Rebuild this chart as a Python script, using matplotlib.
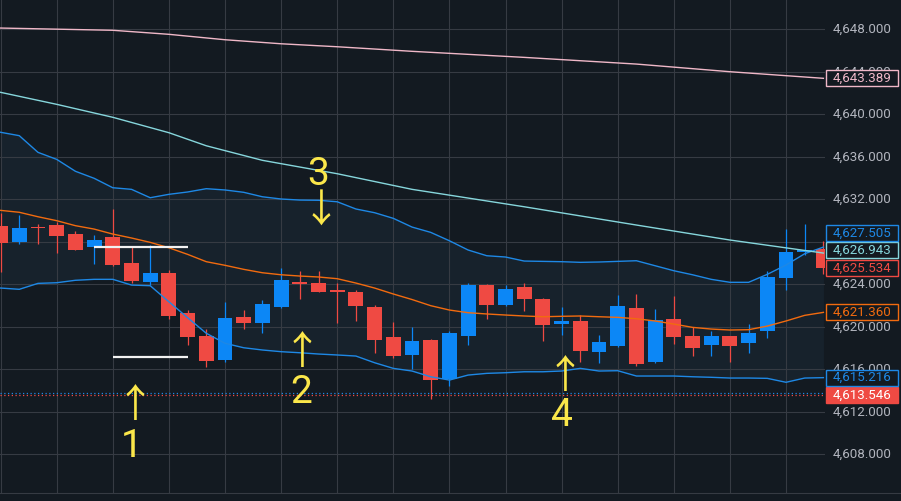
import matplotlib
matplotlib.use("Agg")
import matplotlib.pyplot as plt
from matplotlib.patches import Rectangle
import numpy as np

# candles (one per bar, left to right)
opens = [4629.50, 4627.99, 4629.30, 4629.59, 4628.74, 4627.51, 4628.46, 4626.00, 4624.21, 4625.06,
         4621.29, 4619.12, 4616.85, 4620.91, 4620.34, 4621.88, 4624.08, 4624.12, 4623.35, 4623.27,
         4621.85, 4619.02, 4617.33, 4618.74, 4615.06, 4619.15, 4623.96, 4622.07, 4623.74, 4622.61,
         4620.28, 4620.53, 4617.61, 4618.17, 4621.76, 4616.66, 4620.72, 4619.12, 4618.27, 4619.12,
         4618.46, 4619.59, 4624.59, 4627.04, 4627.33]
highs = [4630.69, 4630.53, 4629.68, 4629.88, 4629.02, 4628.65, 4631.10, 4627.51, 4627.70, 4625.34,
         4621.57, 4619.78, 4622.33, 4621.57, 4622.51, 4625.56, 4625.25, 4625.25, 4624.08, 4623.46,
         4622.04, 4620.44, 4619.94, 4618.83, 4619.59, 4624.15, 4624.00, 4623.93, 4624.12, 4622.70,
         4621.85, 4621.10, 4619.21, 4622.99, 4623.08, 4621.66, 4622.89, 4619.97, 4619.59, 4619.15,
         4620.25, 4625.25, 4629.21, 4629.68, 4628.08]
lows = [4625.18, 4627.83, 4627.83, 4626.92, 4627.20, 4625.91, 4625.70, 4624.12, 4623.93, 4620.72,
        4618.27, 4616.19, 4616.70, 4619.78, 4619.40, 4621.80, 4622.61, 4623.25, 4620.37, 4620.56,
        4617.51, 4617.07, 4616.00, 4613.17, 4614.40, 4618.27, 4620.75, 4622.00, 4621.50, 4618.68,
        4619.21, 4616.69, 4616.60, 4618.10, 4616.29, 4616.60, 4618.36, 4617.23, 4617.23, 4616.66,
        4617.51, 4618.93, 4623.46, 4626.76, 4624.97]
closes = [4627.92, 4629.31, 4629.26, 4628.58, 4627.23, 4628.17, 4625.82, 4624.31, 4625.06, 4621.00,
          4619.02, 4616.76, 4620.82, 4620.34, 4622.14, 4624.40, 4624.02, 4623.30, 4623.30, 4621.95,
          4618.74, 4617.23, 4618.65, 4614.97, 4619.40, 4623.96, 4622.07, 4623.55, 4622.64, 4620.16,
          4620.53, 4617.70, 4618.55, 4621.95, 4616.48, 4620.63, 4619.02, 4617.99, 4619.12, 4618.17,
          4619.40, 4624.68, 4627.04, 4627.23, 4625.534]

# bollinger bands
bb_upper = [4638.31, 4637.99, 4636.42, 4635.76, 4634.64, 4633.98, 4633.09, 4632.94, 4632.15, 4632.47,
            4632.69, 4633.00, 4632.88, 4632.66, 4632.24, 4632.03, 4631.93, 4631.91, 4631.77, 4631.09,
            4630.74, 4630.21, 4629.39, 4628.89, 4628.10, 4627.23, 4626.69, 4626.57, 4626.19, 4626.16,
            4626.13, 4626.07, 4626.10, 4626.16, 4626.22, 4625.75, 4625.28, 4624.90, 4624.47, 4624.19,
            4624.19, 4624.94, 4625.82, 4626.88, 4627.505]
bb_mid = [4630.96, 4630.78, 4630.36, 4629.99, 4629.52, 4629.20, 4628.73, 4628.36, 4627.95, 4627.44,
          4626.82, 4626.13, 4625.79, 4625.41, 4625.09, 4624.90, 4624.78, 4624.69, 4624.53, 4624.12,
          4623.65, 4623.09, 4622.57, 4621.99, 4621.58, 4621.33, 4621.21, 4621.11, 4621.02, 4620.95,
          4620.99, 4621.02, 4620.95, 4620.89, 4620.76, 4620.55, 4620.26, 4619.95, 4619.79, 4619.70,
          4619.73, 4620.07, 4620.55, 4621.08, 4621.360]
bb_lower = [4623.65, 4623.53, 4624.09, 4624.15, 4624.38, 4624.47, 4624.47, 4623.93, 4623.87, 4622.36,
            4620.86, 4619.39, 4618.45, 4618.03, 4617.82, 4617.66, 4617.56, 4617.44, 4617.35, 4617.25,
            4616.62, 4616.09, 4615.84, 4615.30, 4614.99, 4615.46, 4615.62, 4615.68, 4615.77, 4615.77,
            4615.84, 4616.09, 4615.84, 4615.87, 4615.37, 4615.37, 4615.37, 4615.30, 4615.25, 4615.18,
            4615.18, 4615.15, 4614.78, 4615.18, 4615.216]

# slow moving averages, read at a few bars
ma_slow_bars = [0, 6, 9, 12, 15, 18, 22, 28, 34, 39, 44]
ma_slow = [4648.12, 4647.91, 4647.53, 4647.02, 4646.64, 4646.36, 4645.93, 4645.36, 4644.73, 4644.01, 4643.389]
ma_mid_bars = [0, 3, 6, 9, 11, 14, 18, 22, 28, 34, 39, 44]
ma_mid = [4642.07, 4640.94, 4639.72, 4638.27, 4637.04, 4635.67, 4634.41, 4632.94, 4631.30, 4629.58, 4628.17, 4626.943]

bid_price = 4613.74
ask_price = 4613.546

# drawn levels: price, first bar, last bar
level_prices = [4627.54, 4617.19]
level_start = [5, 6]
level_end = [10, 10]

price_ticks = [4608, 4612, 4616, 4620, 4624, 4628, 4632, 4636, 4640, 4644, 4648]

BG = "#131a21"
GRID = "#363b43"
RED = "#ef4a43"
BLUE = "#0c87f6"
BAND = "#1e88e5"
ORANGE = "#f26b0f"
CYAN = "#86d6dc"
PINK = "#f0b8c8"
YELLOW = "#fbe74a"
TXT = "#b2b5be"

plt.rcParams["font.family"] = ["Roboto", "DejaVu Sans"]

fig = plt.figure(figsize=(9.01, 5.01), dpi=100, facecolor=BG)
ax = fig.add_axes([0, 8 / 501, 825 / 901, 493 / 501], facecolor=BG)
sx = fig.add_axes([825 / 901, 8 / 501, 76 / 901, 493 / 501], facecolor=BG)

ymin, ymax = 4604.36, 4650.76
ax.set_ylim(ymin, ymax)
ax.set_xlim(-0.032, 44.085)
sx.set_ylim(ymin, ymax)
sx.set_xlim(0, 76)

for a in (ax, sx):
    a.set_xticks([])
    a.set_yticks([])
    for s in ("top", "left", "right"):
        a.spines[s].set_visible(False)
    a.spines["bottom"].set_color(GRID)

# grid
for t in price_ticks:
    ax.axhline(t, color=GRID, lw=0.8, zorder=1)
for b in range(0, len(opens), 3):
    ax.axvline(b, color=GRID, lw=0.8, zorder=1)

bars = np.arange(len(opens))
o = np.array(opens)
c = np.array(closes)
cols = np.where(c >= o, BLUE, RED)

ax.fill_between(bars, bb_lower, bb_upper, color="#17222c", lw=0, zorder=0.5)

ax.vlines(bars, lows, highs, colors=cols, lw=0.9, zorder=3)
body_h = np.maximum(np.abs(c - o), 0.16)
ax.bar(bars, body_h, bottom=np.minimum(o, c), width=0.8, color=cols, lw=0, zorder=3)

ax.plot(bars, bb_upper, color=BAND, lw=1.0, zorder=4)
ax.plot(bars, bb_lower, color=BAND, lw=1.0, zorder=4)
ax.plot(bars, bb_mid, color=ORANGE, lw=1.0, zorder=4)
ax.plot(ma_mid_bars, ma_mid, color=CYAN, lw=1.0, zorder=4)
ax.plot(ma_slow_bars, ma_slow, color=PINK, lw=1.0, zorder=4)

ax.axhline(bid_price, color=BAND, lw=0.9, ls=(0, (1, 2)), zorder=4)
ax.axhline(ask_price, color=RED, lw=0.9, ls=(0, (1, 2)), zorder=4)

ax.hlines(level_prices, level_start, level_end, colors="#f2f2f2", lw=1.6, zorder=5)

# hand-drawn markers: digits and arrows
digits = [("1", 7.0, 4608.78), ("2", 16.05, 4613.86), ("3", 16.99, 4634.35), ("4", 30.02, 4611.70)]
arrows = [("↑", 7.21, 4612.55), ("↑", 16.12, 4617.58), ("↓", 17.15, 4630.9), ("↑", 30.16, 4615.30)]
for s, xb, yp in digits:
    ax.text(xb, yp, s, color=YELLOW, fontsize=28, ha="center", va="center", zorder=6)
for s, xb, yp in arrows:
    ax.text(xb, yp, s, color=YELLOW, fontsize=28, fontweight="medium", ha="center", va="center",
            zorder=6, family=["Noto Sans CJK SC", "DejaVu Sans"])

# price scale
for t in price_ticks:
    sx.text(8, t, f"{t:,.3f}", color=TXT, fontsize=9.6, ha="left", va="center", zorder=2)

labels = [(ask_price, RED, True), (bb_lower[-1], BAND, False), (bb_mid[-1], ORANGE, False),
          (closes[-1], RED, False), (ma_mid[-1], CYAN, False), (bb_upper[-1], BAND, False),
          (ma_slow[-1], PINK, False)]
px_per_unit = 493 / (ymax - ymin)
half = 8 / px_per_unit
step = 17.6 / px_per_unit
prev = -1e9
for val, col, filled in sorted(labels, key=lambda r: r[0]):
    cy = max(val, prev + step)
    prev = cy
    sx.add_patch(Rectangle((1, cy - half), 72, 2 * half, facecolor=col if filled else BG,
                           edgecolor=col, lw=1.0, zorder=5))
    sx.text(8, cy, f"{val:,.3f}", color="white" if filled else col, fontsize=9.6,
            ha="left", va="center", zorder=6)

fig.savefig("out.png", dpi=100, facecolor=BG)
